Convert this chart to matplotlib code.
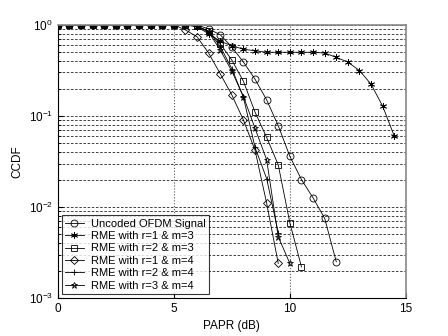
import matplotlib
matplotlib.use("Agg")
import matplotlib.pyplot as plt
import numpy as np

plt.rcParams["font.family"] = ["Liberation Sans", "DejaVu Sans"]
plt.rcParams["mathtext.default"] = "regular"

# PAPR grid (dB) and CCDF values
papr = np.arange(0, 15.0, 0.5)

uncoded = [1, 1, 1, 1, 1, 1, 1, 1, 1, 1, 1, 1, 1.0, 0.90, 0.78, 0.57, 0.39,
           0.253, 0.15, 0.078, 0.036, 0.020, 0.0126, 0.0075, 0.0025]
r1_m3 = [1, 1, 1, 1, 1, 1, 1, 1, 1, 1, 1, 1, 0.95, 0.80, 0.66, 0.59, 0.54,
         0.52, 0.50, 0.50, 0.50, 0.50, 0.50, 0.49, 0.44, 0.39, 0.315, 0.223,
         0.128, 0.060]
r2_m3 = [1, 1, 1, 1, 1, 1, 1, 1, 1, 1, 1, 1, 0.97, 0.85, 0.62, 0.41, 0.24,
         0.11, 0.058, 0.029, 0.0067, 0.0022]
r1_m4 = [1, 1, 1, 1, 1, 1, 1, 1, 1, 1, 1, 0.88, 0.74, 0.49, 0.29, 0.17, 0.09,
         0.042, 0.011, 0.0024]
r2_m4 = [1, 1, 1, 1, 1, 1, 1, 1, 1, 1, 1, 1, 0.97, 0.85, 0.58, 0.33, 0.16,
         0.045, 0.0205, 0.0052]
r3_m4 = [1, 1, 1, 1, 1, 1, 1, 1, 1, 1, 1, 1, 0.97, 0.83, 0.53, 0.31, 0.163,
         0.073, 0.033, 0.0047, 0.0024]

series = [
    ("Uncoded OFDM Signal", uncoded, "o"),
    ("RME with r=1 & m=3", r1_m3, (6, 2, 0)),
    ("RME with r=2 & m=3", r2_m3, "s"),
    ("RME with r=1 & m=4", r1_m4, "D"),
    ("RME with r=2 & m=4", r2_m4, "+"),
    ("RME with r=3 & m=4", r3_m4, "*"),
]

fig = plt.figure(figsize=(4.48, 3.36), dpi=100)
ax = fig.add_axes([0.129, 0.113, 0.777, 0.813])

for label, vals, mk in series:
    ms = 4 if mk == "D" else 5
    ax.semilogy(papr[:len(vals)], vals, color="black", linewidth=0.6,
                marker=mk, markersize=ms, markerfacecolor="none",
                markeredgecolor="black", markeredgewidth=0.6, label=label)

ax.set_xlim(0, 15)
ax.set_ylim(1e-3, 1)
ax.set_xticks([0, 5, 10, 15])
ax.grid(True, which="major", axis="x", color="#555555", linestyle=":",
        linewidth=0.8)
ax.grid(True, which="both", axis="y", color="#222222", linestyle=(0, (3, 2)),
        linewidth=0.6)
ax.tick_params(direction="in", which="both", labelsize=8.5, top=False,
               right=False)
for side in ["top", "right"]:
    ax.spines[side].set_color("#888888")
    ax.spines[side].set_linewidth(1.2)

ax.set_xlabel("PAPR (dB)", fontsize=8.5)
ax.set_ylabel("CCDF", fontsize=8.5)

leg = ax.legend(loc="lower left", fontsize=8, frameon=True, fancybox=False,
                borderaxespad=0.35, handlelength=1.7, labelspacing=0.22,
                borderpad=0.3, handletextpad=0.6)
leg.get_frame().set_edgecolor("black")
leg.get_frame().set_linewidth(0.8)

fig.savefig("out.png", dpi=100)
